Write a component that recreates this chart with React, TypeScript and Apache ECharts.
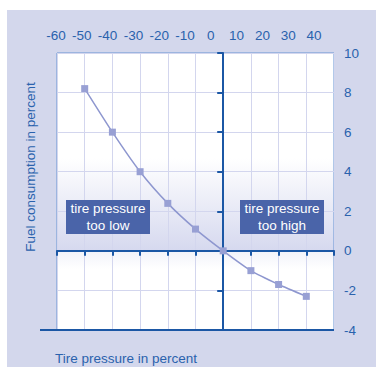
import React, { useEffect, useRef } from "react";
import * as echarts from "echarts";

const pressure = [-50, -40, -30, -20, -10, 0, 10, 20, 30];
const consumption = [8.2, 6, 4, 2.4, 1.1, 0, -1, -1.7, -2.3];
const xTicks = { min: -60, max: 40, interval: 10 };
const yTicks = { min: -4, max: 10, interval: 2 };
const xTitle = "Tire pressure in percent";
const yTitle = "Fuel consumption in percent";
const lowLabel = "tire pressure\ntoo low";
const highLabel = "tire pressure\ntoo high";

const TEXT = "#2a62ad";
const AXIS = "#1b57a5";
const GRIDLINE = "#d3d6ee";
const FONT = "Liberation Sans, Arial, sans-serif";
const FS = 13.5;

function box(left: number, label: string) {
  return [
    {
      type: "rect",
      shape: { x: left, y: 200, width: 84, height: 34 },
      style: { fill: "#4a64a9" },
      z: 50,
      zlevel: 1,
    },
    {
      type: "text",
      x: left + 42,
      y: 217,
      z: 51,
      zlevel: 1,
      style: {
        text: label,
        fill: "#ffffff",
        fontSize: FS,
        fontFamily: FONT,
        lineHeight: 17,
        textAlign: "center",
        textVerticalAlign: "middle",
      },
    },
  ];
}

export default function App() {
  const ref = useRef<HTMLDivElement>(null);
  useEffect(() => {
    if (!ref.current) return;
    const chart = echarts.init(ref.current, undefined, { renderer: "svg" });
    const data = pressure.map((p, i) => [p, consumption[i]]);
    chart.setOption({
      animation: false,
      grid: [
        {
          left: 57,
          top: 53,
          width: 277,
          height: 277,
          show: true,
          borderColor: "#6593d2",
          borderWidth: 1,
          backgroundColor: {
            type: "linear",
            x: 0,
            y: 0,
            x2: 0,
            y2: 1,
            colorStops: [
              { offset: 0, color: "#ffffff" },
              { offset: 0.38, color: "#ffffff" },
              { offset: 0.712, color: "#d6d9ef" },
              { offset: 0.716, color: "#f2f3fa" },
              { offset: 0.78, color: "#ffffff" },
              { offset: 1, color: "#ffffff" },
            ],
          },
        },
        { left: 56, top: 53, width: 258, height: 277 },
      ],
      xAxis: [
        {
          type: "value",
          gridIndex: 0,
          ...xTicks,
          axisLine: { onZero: true, lineStyle: { color: AXIS, width: 2 } },
          axisTick: { show: true, length: 5, lineStyle: { color: AXIS, width: 2 } },
          axisLabel: { show: false },
          splitLine: { show: true, lineStyle: { color: GRIDLINE, width: 1 } },
        },
        {
          type: "value",
          gridIndex: 1,
          position: "top",
          ...xTicks,
          axisLine: { show: false },
          axisTick: { show: false },
          splitLine: { show: false },
          axisLabel: { color: TEXT, fontSize: FS, fontFamily: FONT, margin: 11 },
        },
      ],
      yAxis: [
        {
          type: "value",
          gridIndex: 0,
          ...yTicks,
          position: "left",
          axisLine: { onZero: true, lineStyle: { color: AXIS, width: 2 } },
          axisTick: { show: true, length: 6, lineStyle: { color: AXIS, width: 2 } },
          axisLabel: { show: false },
          splitLine: { show: true, lineStyle: { color: GRIDLINE, width: 1 } },
        },
        {
          type: "value",
          gridIndex: 0,
          ...yTicks,
          position: "right",
          axisLine: { show: false },
          axisTick: { show: false },
          splitLine: { show: false },
          axisLabel: { color: TEXT, fontSize: FS, fontFamily: FONT, margin: 10 },
        },
        {
          type: "value",
          gridIndex: 1,
          show: false,
        },
      ],
      series: [
        {
          type: "line",
          xAxisIndex: 0,
          yAxisIndex: 0,
          data,
          smooth: 0.2,
          symbol: "rect",
          symbolSize: 7,
          showAllSymbol: true,
          itemStyle: { color: "#98a0d4" },
          lineStyle: { color: "#8e97cf", width: 1.5 },
          z: 5,
        },
      ],
      graphic: [
        {
          type: "line",
          shape: { x1: 40, y1: 330, x2: 334, y2: 330 },
          style: { stroke: AXIS, lineWidth: 2 },
          z: 10,
        },
        ...box(66, lowLabel),
        ...box(240, highLabel),
        {
          type: "text",
          x: 55,
          y: 358,
          style: {
            text: xTitle,
            fill: TEXT,
            fontSize: FS,
            fontFamily: FONT,
            textVerticalAlign: "middle",
          },
        },
        {
          type: "text",
          x: 30,
          y: 167,
          rotation: Math.PI / 2,
          style: {
            text: yTitle,
            fill: TEXT,
            fontSize: FS,
            fontFamily: FONT,
            textAlign: "center",
            textVerticalAlign: "middle",
          },
        },
      ],
    });
    return () => chart.dispose();
  }, []);
  return (
    <div style={{ position: "fixed", left: 0, top: 0, width: 376, height: 367, background: "#ffffff" }}>
      <div style={{ position: "absolute", left: 7, top: 10, width: 369, height: 357, background: "#d3d7ec" }} />
      <div ref={ref} style={{ position: "absolute", left: 0, top: 0, width: 376, height: 367 }} />
    </div>
  );
}
